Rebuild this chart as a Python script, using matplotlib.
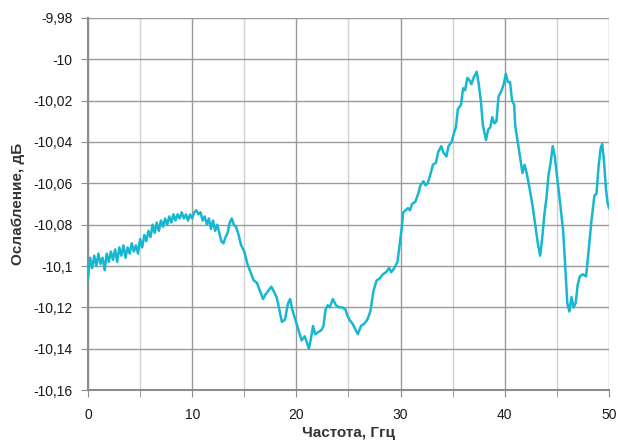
import matplotlib
matplotlib.use('Agg')
import matplotlib.pyplot as plt
from matplotlib.ticker import FuncFormatter, MultipleLocator

plt.rcParams['font.family'] = ['Liberation Sans', 'DejaVu Sans']

# Frequency, GHz
freq = [0.0, 0.2, 0.4, 0.6, 0.8, 1.0, 1.2, 1.4, 1.6, 1.8, 2.0, 2.2, 2.4, 2.6, 2.8,
        3.0, 3.2, 3.4, 3.6, 3.8, 4.0, 4.2, 4.4, 4.6, 4.8, 5.0, 5.2, 5.4, 5.6, 5.8,
        6.0, 6.2, 6.4, 6.6, 6.8, 7.0, 7.2, 7.4, 7.6, 7.8, 8.0, 8.2, 8.4, 8.6, 8.8,
        9.0, 9.2, 9.4, 9.6, 9.8, 10.0, 10.2, 10.4, 10.6, 10.8, 11.0, 11.2, 11.4, 11.6, 11.8,
        12.0, 12.2, 12.4, 12.6, 12.8, 13.0, 13.2, 13.4, 13.6, 13.8, 14.0, 14.2, 14.4, 14.7,
        15.0, 15.3, 15.6, 15.9, 16.2, 16.5, 16.8, 17.0, 17.3, 17.6, 17.9, 18.1, 18.4, 18.6,
        18.9, 19.2, 19.4, 19.6, 19.9, 20.2, 20.5, 20.8, 21.0, 21.2, 21.4, 21.6, 21.8, 22.1,
        22.4, 22.6, 22.8, 23.0, 23.2, 23.5, 23.8, 24.1, 24.4, 24.7, 24.9, 25.1, 25.4, 25.7,
        25.9, 26.2, 26.5, 26.8, 27.1, 27.4, 27.7, 28.0, 28.3, 28.6, 28.9, 29.1, 29.4, 29.7,
        29.9, 30.1, 30.25, 30.5, 30.7, 30.9, 31.1, 31.4, 31.7, 31.9, 32.2, 32.4, 32.6, 32.9,
        33.1, 33.4, 33.6, 33.9, 34.1, 34.4, 34.6, 34.9, 35.1, 35.3, 35.5, 35.8, 36.0, 36.2,
        36.4, 36.6, 36.8, 37.0, 37.3, 37.5, 37.7, 37.9, 38.2, 38.4, 38.6, 38.8, 39.0, 39.2,
        39.4, 39.7, 39.9, 40.1, 40.3, 40.5, 40.7, 40.9, 41.0, 41.3, 41.5, 41.7, 41.9, 42.1,
        42.4, 42.7, 43.0, 43.2, 43.4, 43.6, 43.8, 44.0, 44.2, 44.4, 44.6, 44.8, 45.0, 45.3,
        45.6, 45.8, 46.0, 46.2, 46.4, 46.6, 46.8, 47.0, 47.2, 47.5, 47.8, 48.0, 48.3, 48.6,
        48.8, 49.0, 49.2, 49.35, 49.5, 49.7, 49.85, 50.0]

# Attenuation, dB
atten = [-10.106, -10.096, -10.101, -10.095, -10.100, -10.094, -10.099, -10.096, -10.102, -10.094,
         -10.098, -10.093, -10.097, -10.092, -10.098, -10.091, -10.095, -10.090, -10.096, -10.091,
         -10.094, -10.089, -10.093, -10.090, -10.094, -10.087, -10.091, -10.085, -10.088, -10.083,
         -10.086, -10.080, -10.084, -10.079, -10.083, -10.078, -10.081, -10.077, -10.080, -10.076,
         -10.079, -10.075, -10.078, -10.075, -10.077, -10.074, -10.077, -10.075, -10.078, -10.075,
         -10.077, -10.074, -10.073, -10.075, -10.074, -10.078, -10.076, -10.080, -10.077, -10.082,
         -10.078, -10.083, -10.080, -10.084, -10.088, -10.089, -10.086, -10.084, -10.079, -10.077,
         -10.080, -10.081, -10.084, -10.090,
         -10.093, -10.099, -10.103, -10.107, -10.108, -10.112, -10.116, -10.114, -10.112, -10.110,
         -10.113, -10.115, -10.122, -10.127, -10.126, -10.118, -10.116, -10.121, -10.126, -10.131,
         -10.136, -10.134, -10.137, -10.140, -10.135, -10.129, -10.133, -10.132, -10.131, -10.129,
         -10.121, -10.119, -10.120, -10.116, -10.119, -10.120, -10.120, -10.121, -10.124, -10.126,
         -10.128, -10.131, -10.133, -10.129, -10.128, -10.126, -10.122, -10.112, -10.107, -10.106,
         -10.104, -10.103, -10.101, -10.103, -10.101, -10.098, -10.090, -10.082, -10.074, -10.073,
         -10.072, -10.073, -10.070, -10.069, -10.065, -10.061, -10.059, -10.061, -10.060, -10.055,
         -10.051, -10.050, -10.045, -10.042, -10.045, -10.047, -10.042, -10.040, -10.036, -10.033,
         -10.024, -10.022, -10.014, -10.015, -10.009, -10.010, -10.012, -10.009, -10.006, -10.012,
         -10.020, -10.032, -10.039, -10.034, -10.033, -10.028, -10.031, -10.030, -10.018, -10.015,
         -10.012, -10.007, -10.011, -10.011, -10.020, -10.022, -10.032, -10.042, -10.049, -10.055,
         -10.051, -10.055, -10.063, -10.072, -10.083, -10.090, -10.095, -10.086, -10.075, -10.067,
         -10.056, -10.050, -10.042, -10.047, -10.056, -10.069, -10.083, -10.100, -10.118, -10.122,
         -10.115, -10.120, -10.118, -10.109, -10.105, -10.104, -10.105, -10.095, -10.079, -10.066,
         -10.065, -10.052, -10.043, -10.041, -10.048, -10.062, -10.069, -10.072]


def comma_fmt(v, pos):
    return '{:g}'.format(round(v, 2)).replace('.', ',')


fig = plt.figure(figsize=(6.18, 4.42), dpi=100)
ax = fig.add_axes([0.1424, 0.1176, 0.843, 0.8417])

ax.plot(freq, atten, color='#17b8cf', linewidth=1.8, zorder=3)

ax.set_xlim(0, 50)
ax.set_ylim(-10.16, -9.98)
ax.xaxis.set_major_locator(MultipleLocator(10))
ax.xaxis.set_minor_locator(MultipleLocator(5))
ax.yaxis.set_major_locator(MultipleLocator(0.02))
ax.yaxis.set_major_formatter(FuncFormatter(comma_fmt))

ax.grid(which='major', axis='both', color='#9a9a9a', linewidth=1.0)
ax.grid(which='minor', axis='x', color='#cfcfcf', linewidth=1.0)

for side in ['top', 'right']:
    ax.spines[side].set_visible(False)
for side in ['left', 'bottom']:
    ax.spines[side].set_color('#8c8c8c')
    ax.spines[side].set_linewidth(1.5)

ax.tick_params(which='major', direction='out', length=5, color='#8c8c8c',
               labelsize=10, labelcolor='#1a1a1a', pad=6)
ax.tick_params(which='minor', direction='out', length=5, color='#8c8c8c')
ax.tick_params(axis='x', pad=8)

ax.set_xlabel('Частота, Ггц', fontsize=11, fontweight='bold', color='#333333', labelpad=3)
ax.set_ylabel('Ослабление, дБ', fontsize=11, fontweight='bold', color='#333333', labelpad=6)

fig.savefig('out.png', dpi=100)
